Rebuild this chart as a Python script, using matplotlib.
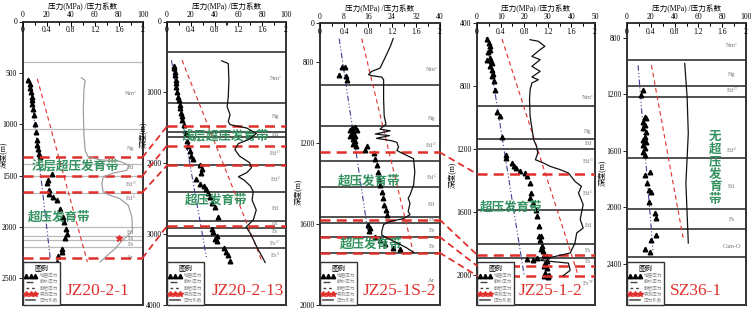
import numpy as np
import matplotlib
matplotlib.use('Agg')
from matplotlib import pyplot as plt
from matplotlib.lines import Line2D
from matplotlib.patches import ConnectionPatch

plt.rcParams['font.family'] = ['Liberation Serif', 'Noto Sans CJK SC']
plt.rcParams['mathtext.fontset'] = 'stix'

RED = '#e0302c'
GREEN = '#33925f'
BLUE = '#3d3f96'

# ---------------- JZ20-2-1 ----------------
p1_tri_depth = [567, 606, 645, 688, 736, 769, 807, 850, 914, 996, 1077, 1158, 1206, 1239, 1287, 1320,
                1482, 1540, 1573, 1638, 1677, 1709, 1741, 1823, 1904, 1952, 2017, 2066, 2105, 2212,
                2244, 2286, 2341]
p1_tri_press = [4.7, 6.1, 6.4, 6.9, 7.5, 7.5, 8.1, 8.9, 9.4, 10.6, 11.1, 11.7, 12.2, 12.5, 13.9, 14.4,
                24.4, 20.8, 20.3, 21.9, 22.2, 25.6, 28.3, 31.1, 33.3, 34.7, 36.1, 36.7, 35.6, 32.5,
                33.1, 29.7, 28.9]
p1_star_depth = [2108]
p1_star_press = [80.3]
p1_hydro_depth = [570, 2300]
p1_hydro_press = [5.9, 22.9]
p1_litho_depth = [558, 2341]
p1_litho_press = [12.2, 53.9]
p1_coef_depth = [548, 574, 671, 866, 1093, 1255, 1320, 1346, 1362, 1401, 1450, 1475, 1514, 1579, 1660,
                 1693, 1725, 1790, 1904, 2033, 2082, 2137, 2212, 2267, 2341]
p1_coef = [0.98, 1.04, 1.02, 1.01, 1.02, 1.04, 1.09, 1.29, 1.62, 1.78, 1.73, 1.51, 1.34, 1.32, 1.34,
           1.46, 1.62, 1.76, 1.82, 1.83, 1.76, 1.65, 1.54, 1.43, 1.29]
p1_bounds = [399, 1050, 1383, 1500, 1670, 2000, 2085, 2130, 2195]
p1_forms = [r'Nm$^s$', 'Ng', 'Ed', r'Ed$^U$', r'Ed$^L$', 'Ed', 'Es', 'Es', 'Ar']
p1_form_depth = [700, 1237, 1420, 1585, 1720, 2052, 2110, 2170, 2296]
p1_red = [1320, 1500, 1660, 2300]

# ---------------- JZ20-2-13 ----------------
p2_tri_depth = [630, 663, 709, 756, 826, 873, 929, 990, 1060, 1106, 1176, 1223, 1293, 1340, 1386, 1456,
                1573, 1690, 1760, 1830, 1900, 1947, 2031, 2087, 2143, 2227, 2297, 2320, 2367, 2413,
                2483, 2563, 2623, 2763, 2927, 2974, 3030, 3067, 3104, 3198, 3254, 3300, 3380]
p2_tri_press = [5.6, 6.2, 6.5, 7.0, 7.3, 7.6, 7.9, 8.4, 9.3, 10.1, 10.7, 11.2, 12.1, 12.6, 12.6, 14.3,
                16.3, 17.1, 17.7, 19.1, 19.9, 21.9, 27.5, 29.5, 28.9, 24.7, 27.5, 30.9, 33.1, 34.6,
                36.0, 37.4, 40.2, 43.0, 38.2, 38.8, 41.6, 40.2, 41.6, 47.8, 50.0, 51.4, 52.8]
p2_hydro_depth = [546, 3324]
p2_hydro_press = [3.7, 33.1]
p2_litho_depth = [546, 3370]
p2_litho_press = [12.6, 79.5]
p2_coef_depth = [555, 593, 826, 1060, 1200, 1316, 1410, 1456, 1503, 1580, 1660, 1722, 1807, 1900, 1993,
                 2063, 2133, 2190, 2240, 2320, 2400, 2520, 2660, 2800, 2900, 2990, 3110, 3200, 3320, 3400]
p2_coef = [0.92, 1.03, 1.04, 1.03, 1.01, 1.06, 1.03, 1.06, 1.34, 1.50, 1.39, 1.20, 1.14, 1.22, 1.39,
           1.42, 1.34, 1.20, 1.30, 1.40, 1.45, 1.43, 1.50, 1.45, 1.33, 1.40, 1.47, 1.52, 1.60, 1.65]
p2_bounds = [430, 1153, 1559, 1634, 2030, 2399, 2819, 2908, 3029, 3197]
p2_forms = [r'Nm$^s$', 'Ng', 'Ed', r'Ed$^U$', r'Ed$^L$', 'Ed', 'Es', 'Es', r'Es$^U$', r'Es$^L$']
p2_form_depth = [803, 1340, 1596, 1862, 2227, 2637, 2852, 2960, 3128, 3291]
p2_red = [1480, 1750, 2030, 2885]

# ---------------- JZ25-1S-2 ----------------
p3_tri_depth = [823, 823, 863, 872, 888, 1124, 1120, 1135, 1140, 1135, 1156, 1164, 1164, 1180, 1189,
                1205, 1213, 1213, 1233, 1250, 1278, 1311, 1343, 1376, 1408, 1441, 1473, 1506, 1530,
                1554, 1603, 1619, 1636, 1665, 1681, 1698, 1717, 1725]
p3_tri_press = [7.2, 8.3, 6.4, 8.7, 8.9, 10.6, 11.7, 10.0, 11.1, 12.2, 10.6, 11.7, 10.0, 10.9, 11.7,
                11.1, 12.0, 15.6, 15.0, 18.0, 18.3, 18.9, 19.4, 19.8, 20.0, 20.6, 21.1, 21.4, 22.0,
                22.4, 16.1, 16.7, 16.4, 18.3, 20.0, 21.7, 24.4, 26.7]
p3_hydro_depth = [685, 1652]
p3_hydro_press = [6.4, 16.1]
p3_litho_depth = [685, 1741]
p3_litho_press = [13.9, 31.1]
p3_coef_depth = [685, 725, 782, 831, 847, 863, 868, 875, 888, 985, 1067, 1107, 1132, 1140, 1156, 1164,
                 1177, 1189, 1197, 1221, 1237, 1245, 1278, 1343, 1408, 1457, 1473, 1498, 1538, 1554,
                 1574, 1587, 1603, 1636, 1655, 1668, 1693, 1717, 1741]
p3_coef = [1.22, 1.17, 1.08, 1.00, 0.86, 0.81, 0.86, 1.03, 1.06, 1.06, 1.07, 1.10, 1.00, 1.17, 0.92,
           1.16, 0.94, 1.19, 1.28, 1.31, 1.28, 1.33, 1.56, 1.58, 1.56, 1.50, 1.47, 1.50, 1.47, 1.50,
           1.39, 1.17, 1.06, 1.03, 1.03, 1.11, 1.28, 1.44, 1.56]
p3_bounds = [915, 1115, 1291, 1418, 1564, 1595, 1663, 1741]
p3_forms = [r'Nm$^s$', 'Ng', r'Ed$^U$', r'Ed$^L$', 'Ed', 'Es', 'Es', 'Es', 'Ar']
p3_form_depth = [839, 1080, 1213, 1367, 1502, 1576, 1632, 1709, 1880]
p3_red = [1247, 1580, 1665, 1743]

# ---------------- JZ25-1-2 ----------------
p4_tri_depth = [499, 527, 548, 569, 584, 633, 622, 643, 654, 675, 700, 722, 734, 770, 827, 967, 992,
                1126, 1236, 1257, 1289, 1306, 1320, 1337, 1352, 1373, 1416, 1479, 1511, 1543, 1589,
                1627, 1691, 1754, 1754, 1775, 1818, 1835, 1849, 1871, 1881, 1892, 1898, 1902, 1913,
                1924, 1945, 1955, 1987, 1997, 2008, 2012]
p4_tri_press = [4.2, 4.9, 5.6, 5.4, 4.6, 4.2, 5.6, 5.9, 6.3, 5.6, 6.3, 6.8, 6.3, 7.0, 7.7, 8.5, 9.9,
                10.6, 12.4, 12.4, 14.8, 15.8, 16.6, 18.3, 20.4, 21.1, 22.3, 22.8, 22.3, 23.9, 24.9,
                25.6, 26.3, 26.1, 27.0, 26.5, 27.5, 27.0, 27.9, 28.2, 29.6, 25.4, 21.1, 23.9, 29.6,
                28.9, 28.2, 29.6, 28.9, 30.3, 28.2, 29.9]
p4_hydro_depth = [491, 2004]
p4_hydro_press = [3.9, 20.0]
p4_litho_depth = [502, 2008]
p4_litho_press = [10.6, 43.0]
p4_coef_depth = [506, 516, 548, 569, 612, 633, 675, 707, 743, 760, 781, 823, 887, 992, 1141, 1183, 1225,
                 1268, 1289, 1310, 1331, 1352, 1405, 1437, 1479, 1553, 1606, 1648, 1701, 1733, 1797,
                 1860, 1898, 1907, 1924, 1970, 2004]
p4_coef = [0.90, 1.04, 1.15, 1.07, 0.93, 1.07, 0.93, 1.07, 0.93, 1.04, 0.93, 0.90, 0.89, 0.90, 0.96,
           1.01, 1.03, 0.99, 1.13, 1.24, 1.41, 1.55, 1.66, 1.77, 1.72, 1.80, 1.77, 1.75, 1.80, 1.69,
           1.66, 1.58, 1.13, 1.07, 1.55, 1.58, 1.46]
p4_bounds = [929, 1136, 1200, 1585, 1801, 1890]
p4_forms = [r'Nm$^s$', 'Ng', 'Ed', r'Ed$^U$', r'Ed$^L$', 'Ed', 'Es', 'Es', r'Es$^W$']
p4_form_depth = [876, 1088, 1166, 1278, 1483, 1684, 1843, 1913, 2050]
p4_red = [1358, 1871, 1941, 2004]

# ---------------- SZ36-1 ----------------
p5_tri_depth = [1171, 1207, 1359, 1371, 1395, 1418, 1442, 1465, 1500, 1524, 1536, 1559, 1583, 1606,
                1630, 1747, 1771, 1829, 1876, 1893, 1959, 2041, 2076, 2194, 2234, 2295, 2318]
p5_tri_press = [13.5, 12.1, 14.9, 16.3, 13.5, 14.9, 13.5, 15.7, 14.9, 13.5, 16.3, 13.5, 14.9, 13.5,
                14.9, 19.1, 14.9, 16.9, 18.5, 20.5, 18.5, 23.3, 24.2, 24.2, 20.5, 14.9, 19.1]
p5_hydro_depth = [995, 2311]
p5_hydro_press = [9.3, 21.9]
p5_litho_depth = [995, 2217]
p5_litho_press = [20.5, 47.2]
p5_coef_depth = [983, 1218, 1477, 1653, 1829, 2041, 2252]
p5_coef = [0.97, 1.01, 1.03, 1.01, 0.99, 1.01, 1.03]
p5_bounds = [960, 1141, 1218, 1653, 2010, 2154, 2353]
p5_forms = [r'Nm$^s$', 'Ng', r'Ed$^U$', r'Ed$^L$', 'Ed', 'Es', 'Cam-O']
p5_form_depth = [861, 1058, 1171, 1594, 1853, 2083, 2276]

legend_labels = ['地层压力', '静水压力', '静岩压力', '实测压力', '压力系数']

fig = plt.figure(figsize=(7.51, 3.10), dpi=100)


def panel(rect, pmax, pstep, ylim, yticks, yticklabels, name, name_x,
          tri_d, tri_p, hyd_d, hyd_p, lit_d, lit_p, coef_d, coef,
          bounds, forms, form_d, reds, bound_color='#222', bound_lw=1.1,
          coef_color='#111', form_x=0.91, ylab=(-0.16, 0.5)):
    ax = fig.add_axes(rect)
    ax2 = ax.twiny()   # 压力系数坐标, twiny会把ax的刻度挪到下面, 后面再挪回去
    ax.set_xlim(0, pmax)
    ax.set_ylim(ylim[1], ylim[0])
    for s in ax.spines.values():
        s.set_linewidth(1.4)
        s.set_color('#333')

    # 压力坐标（上方）
    ax.xaxis.tick_top()
    ax.xaxis.set_label_position('top')
    ax.set_xticks(np.arange(0, pmax + 0.01, pstep))
    ax.set_xticks(np.arange(0, pmax + 0.01, pstep / 2), minor=True)
    ax.tick_params(axis='x', which='both', direction='in', length=3, width=0.6, labelsize=5.5, pad=1.5)
    ax.tick_params(axis='x', which='minor', length=2)
    ax.set_xlabel('压力(MPa) /压力系数', fontsize=5.5, labelpad=1.5)

    ax.set_yticks(yticks)
    ax.set_yticklabels(yticklabels)
    ax.tick_params(axis='y', direction='out', length=3, width=0.6, labelsize=5.5, pad=1)
    ax.set_ylabel('深度(m)', fontsize=5.5)
    ax.yaxis.set_label_coords(*ylab)

    # 地层界线
    for d in bounds:
        ax.axhline(d, color=bound_color, lw=bound_lw, zorder=1)
    tr = ax.get_yaxis_transform()
    for f, d in zip(forms, form_d):
        ax.text(form_x, d, f, transform=tr, fontsize=4.5, color='#777', ha='center', va='center')

    ax.plot(hyd_p, hyd_d, color=BLUE, lw=0.8, ls=(0, (5, 2, 1, 2, 1, 2)), zorder=3)
    ax.plot(lit_p, lit_d, color=RED, lw=0.8, ls=(0, (4, 3)), zorder=3)
    ax.plot(tri_p, tri_d, ls='none', marker='^', color='k', ms=3.3, zorder=4)

    for d in reds:
        ax.axhline(d, color=RED, lw=1.8, ls=(0, (4, 2.5)), zorder=5)

    ax2.set_xlim(0, 2)
    ax2.set_xticks([0, 0.4, 0.8, 1.2, 1.6, 2])
    ax2.set_xticklabels(['0', '0.4', '0.8', '1.2', '1.6', '2'])
    ax2.set_xticks(np.arange(0, 2.01, 0.2), minor=True)
    ax2.tick_params(axis='x', which='both', direction='in', length=3, width=0.6, labelsize=5.5, pad=-9)
    ax2.tick_params(axis='x', which='minor', length=2)
    for s in ax2.spines.values():
        s.set_visible(False)
    ax2.plot(coef, coef_d, color=coef_color, lw=0.9, zorder=3)

    handles = [Line2D([], [], ls='none', marker='^', color='k', ms=3.2),
               Line2D([], [], ls=(0, (5, 3)), color='#444', lw=1),
               Line2D([], [], ls=(0, (2, 2)), color='#444', lw=1),
               Line2D([], [], ls='none', marker='*', color=RED, ms=4),
               Line2D([], [], color='#555', lw=1.2)]
    leg = ax2.legend(handles, legend_labels, loc='lower left', bbox_to_anchor=(0, 0), borderaxespad=0,
                     title='图例', title_fontsize=5, fontsize=3.3, numpoints=3, handlelength=2.6,
                     handletextpad=0.6, labelspacing=0.35, borderpad=0.45, fancybox=False,
                     edgecolor='#333', framealpha=1)
    leg.get_frame().set_linewidth(1.0)
    for t in leg.get_texts():
        t.set_color('#888')

    ax2.text(name_x, 0.05, name, transform=ax.transAxes, color=RED, fontsize=12.5,
             ha='center', va='center', family='Liberation Serif')
    return ax, ax2


BOT = 5 / 310
ax1, b1 = panel([22.7 / 751, BOT, 120 / 751, 283.5 / 310], 100, 20, (0, 2760),
                [0, 500, 1000, 1500, 2000, 2500], ['0', '500', '1000', '1500', '2000', '2500'],
                'JZ20-2-1', 0.62,
                p1_tri_depth, p1_tri_press, p1_hydro_depth, p1_hydro_press, p1_litho_depth, p1_litho_press,
                p1_coef_depth, p1_coef, p1_bounds, p1_forms, p1_form_depth, p1_red,
                bound_color='#bbbbbb', bound_lw=0.9, coef_color='#a0a0a0', form_x=0.9,
                ylab=(-0.12, 0.53))
ax1.plot(p1_star_press, p1_star_depth, ls='none', marker='*', color=RED, ms=4.5, zorder=6)

ax2_, b2 = panel([167 / 751, BOT, 119 / 751, 283.5 / 310], 100, 20, (0, 3980),
                 [0, 1000, 2000, 3000, 4000], ['0', '1000', '2000', '3000', '4000'],
                 'JZ20-2-13', 0.675,
                 p2_tri_depth, p2_tri_press, p2_hydro_depth, p2_hydro_press, p2_litho_depth, p2_litho_press,
                 p2_coef_depth, p2_coef, p2_bounds, p2_forms, p2_form_depth, p2_red,
                 ylab=(-0.16, 0.6))

ax3, b3 = panel([320 / 751, BOT, 120 / 751, 282 / 310], 40, 8, (608, 1995),
                [608, 800, 1200, 1600, 2000], ['0', '800', '1200', '1600', '2000'],
                'JZ25-1S-2', 0.665,
                p3_tri_depth, p3_tri_press, p3_hydro_depth, p3_hydro_press, p3_litho_depth, p3_litho_press,
                p3_coef_depth, p3_coef, p3_bounds, p3_forms, p3_form_depth, p3_red, form_x=0.93,
                ylab=(-0.14, 0.40))

ax4, b4 = panel([477 / 751, BOT, 118 / 751, 282 / 310], 50, 10, (400, 2190),
                [400, 800, 1200, 1600, 2000], ['400', '800', '1200', '1600', '2000'],
                'JZ25-1-2', 0.62,
                p4_tri_depth, p4_tri_press, p4_hydro_depth, p4_hydro_press, p4_litho_depth, p4_litho_press,
                p4_coef_depth, p4_coef, p4_bounds, p4_forms, p4_form_depth, p4_red, form_x=0.94,
                ylab=(-0.17, 0.46))

ax5, b5 = panel([627 / 751, BOT, 119 / 751, 282 / 310], 100, 20, (697, 2690),
                [800, 1200, 1600, 2000, 2400], ['800', '1200', '1600', '2000', '2400'],
                'SZ36-1', 0.58,
                p5_tri_depth, p5_tri_press, p5_hydro_depth, p5_hydro_press, p5_litho_depth, p5_litho_press,
                p5_coef_depth, p5_coef, p5_bounds, p5_forms, p5_form_depth, [], form_x=0.88,
                ylab=(-0.17, 0.47))

# 超压带文字
gkw = dict(color=GREEN, fontsize=9, fontweight='bold', ha='center', va='center',
           family='Noto Sans CJK SC', zorder=7)
ax1.text(43.6, 1410, '浅层超压发育带', **gkw)
ax1.text(30.3, 1907, '超压发育带', **gkw)
ax2_.text(48.7, 1622, '浅层超压发育带', **gkw)
ax2_.text(41.6, 2527, '超压发育带', **gkw)
ax3.text(16.3, 1390, '超压发育带', **gkw)
ax3.text(17.0, 1702, '超压发育带', **gkw)
ax4.text(14.4, 1572, '超压发育带', **gkw)
ax5.text(74, 1721, '\n'.join('无超压发育带'), linespacing=0.95, **gkw)

# 井间超压带连线
links = [(ax1, 100, p1_red, ax2_, p2_red), (ax3, 40, p3_red, ax4, p4_red)]
for axa, xa, da, axb, db in links:
    for d1, d2 in zip(da, db):
        con = ConnectionPatch(xyA=(xa, d1), coordsA='data', axesA=axa,
                              xyB=(0, d2), coordsB='data', axesB=axb,
                              color=RED, lw=1.3, ls=(0, (3, 3)))
        fig.add_artist(con)

fig.savefig('out.png', dpi=100)
